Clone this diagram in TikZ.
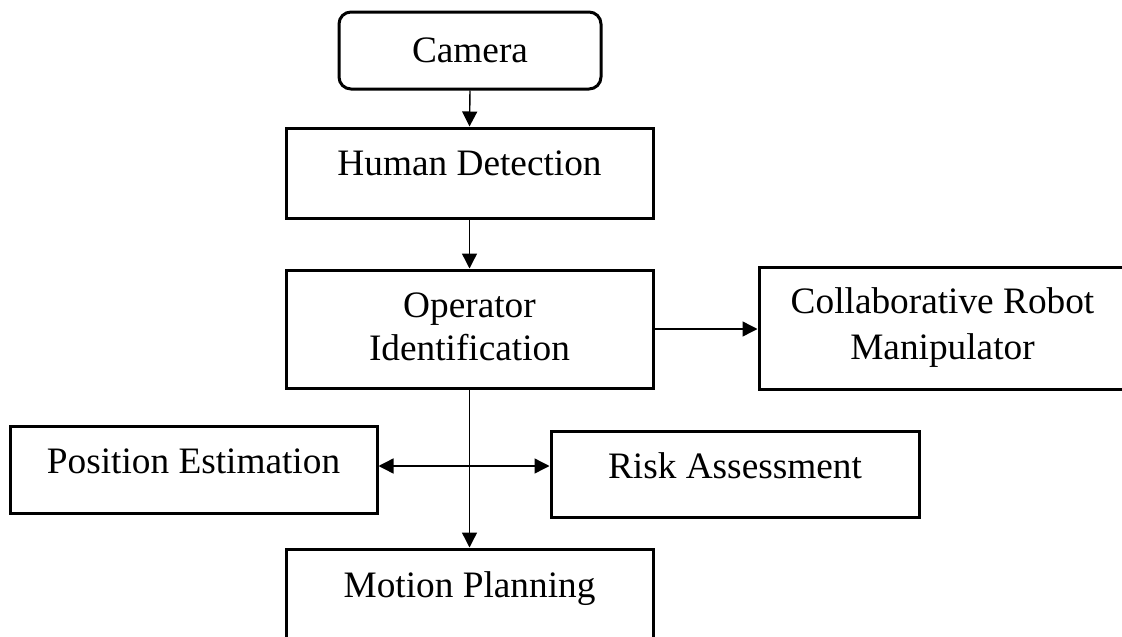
\documentclass[tikz,border=0pt]{standalone}
\usepackage{fontspec}
\setmainfont{Liberation Serif}
\usetikzlibrary{arrows.meta}

\tikzset{
  box/.style={draw, line width=3pt, inner sep=0pt},
  roundbox/.style={box, rounded corners=12pt},
  label text/.style={anchor=base, inner sep=0pt, align=center,
    font=\fontsize{37.3}{44}\selectfont},
  tip/.style={Triangle[length=15pt, width=15pt]},
  flow/.style={line width=1.4pt, -{Triangle[length=15pt, width=15pt]}},
  both flow/.style={line width=1.4pt, {Triangle[length=15pt, width=15pt]}-{Triangle[length=15pt, width=15pt]}}
}

\begin{document}
\begin{tikzpicture}[x=1pt, y=-1pt]
  \useasboundingbox (0,0) rectangle (1122,637);

  % process boxes
  \node[roundbox, minimum width=262pt, minimum height=77pt] (cam) at (470,50.5) {};
  \node[box, minimum width=367pt, minimum height=90.5pt] (hd) at (469.5,173.25) {};
  \node[box, minimum width=367pt, minimum height=118pt] (oi) at (469.5,329) {};
  \node[box, minimum width=367pt, minimum height=122pt] (crm) at (942.5,328) {};
  \node[box, minimum width=367pt, minimum height=87pt] (pe) at (193.5,469.5) {};
  \node[box, minimum width=368pt, minimum height=86pt] (ra) at (735,474) {};
  \node[box, minimum width=367pt, minimum height=91pt] (mp) at (469.5,594.5) {};

  % box texts
  \node[label text] at (470,62) {Camera};
  \node[label text] at (469.5,175) {Human Detection};
  \node[label text] at (469.5,317) {Operator};
  \node[label text] at (469.5,360) {Identification};
  \node[label text] at (942.5,313) {Collaborative Robot};
  \node[label text] at (942.5,359) {Manipulator};
  \node[label text] at (193.5,473) {Position Estimation};
  \node[label text] at (735,478) {Risk Assessment};
  \node[label text] at (469.5,597) {Motion Planning};

  % connectors
  \coordinate (hline) at (0,466);
  \draw[flow] (cam.south) -- (hd.north);
  \draw[flow] (hd.south) -- (oi.north);
  \draw[flow] (oi.east) -- (crm.west |- oi.east);
  \draw[flow] (oi.south) -- (mp.north);
  \draw[both flow] (pe.east |- hline) -- (ra.west |- hline);
\end{tikzpicture}
\end{document}
